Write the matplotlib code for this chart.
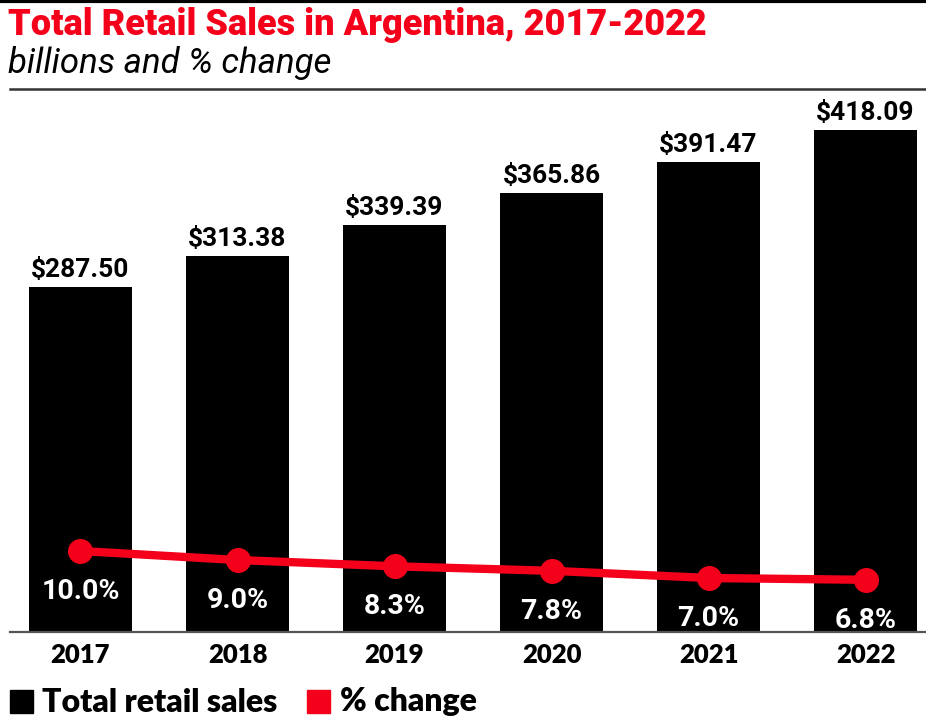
import numpy as np
import matplotlib.pyplot as plt
from matplotlib.patches import Rectangle
from matplotlib.lines import Line2D

years = ['2017', '2018', '2019', '2020', '2021', '2022']
sales = [287.50, 313.38, 339.39, 365.86, 391.47, 418.09]
pct_change = [10.0, 9.0, 8.3, 7.8, 7.0, 6.8]

RED = '#f5001b'
W, H = 926, 717

fig = plt.figure(figsize=(W / 100, H / 100), dpi=100)
fig.patch.set_facecolor('white')

def fx(px):
    return px / W

def fy(py):
    return 1 - py / H

# header
fig.text(fx(8), fy(25), 'Total Retail Sales in Argentina, 2017-2022', color=RED,
         fontsize=26, fontweight='black', family='Roboto', va='center', ha='left')
fig.text(fx(8), fy(63), 'billions and % change', color='black',
         fontsize=25, style='italic', family='Roboto', fontweight='normal',
         va='center', ha='left')
fig.add_artist(Line2D([0, 1], [fy(1), fy(1)], color='black', lw=3))
fig.add_artist(Line2D([fx(10), 1], [fy(89), fy(89)], color='#333333', lw=1.8))

# main axes
ax = fig.add_axes([fx(10), fy(632), fx(916), 540 / H])
x = np.arange(len(years))
ax.bar(x, sales, width=0.656, color='black', zorder=2)
ax.set_xlim(-0.449, 5.385)
ax.set_ylim(0, 450)
for xi, v in zip(x, sales):
    ax.text(xi, v + 4, f'${v:.2f}', ha='center', va='bottom', fontsize=19,
            fontweight='bold', family='Roboto', color='black')

for s in ['top', 'right', 'left']:
    ax.spines[s].set_visible(False)
ax.spines['bottom'].set_color('#555555')
ax.spines['bottom'].set_linewidth(1.6)
ax.set_yticks([])
ax.set_xticks(x)
ax.set_xticklabels(years, fontsize=18.5, fontweight='heavy', family='Lato')
ax.tick_params(axis='x', length=0, pad=8)

# % change on a secondary scale
ax2 = ax.twinx()
ax2.set_ylim(1, 61)
ax2.plot(x, pct_change, color=RED, lw=6, marker='o', markersize=17,
         solid_capstyle='round', zorder=3)
for xi, v in zip(x, pct_change):
    ax2.annotate(f'{v:.1f}%', (xi, v), xytext=(0, -29), textcoords='offset points',
                 ha='center', va='center', fontsize=20.5, fontweight='bold',
                 family='Roboto', color='white')
ax2.axis('off')

# legend
fig.add_artist(Rectangle((fx(10), fy(713)), fx(23), 23 / H, color='black',
                         transform=fig.transFigure))
fig.text(fx(42), fy(702), 'Total retail sales', fontsize=23, fontweight='heavy',
         family='Lato', va='center', ha='left')
fig.add_artist(Rectangle((fx(307), fy(713)), fx(23), 23 / H, color=RED,
                         transform=fig.transFigure))
fig.text(fx(340), fy(702), '% change', fontsize=23, fontweight='heavy',
         family='Lato', va='center', ha='left')

fig.savefig('out.png', dpi=100)
